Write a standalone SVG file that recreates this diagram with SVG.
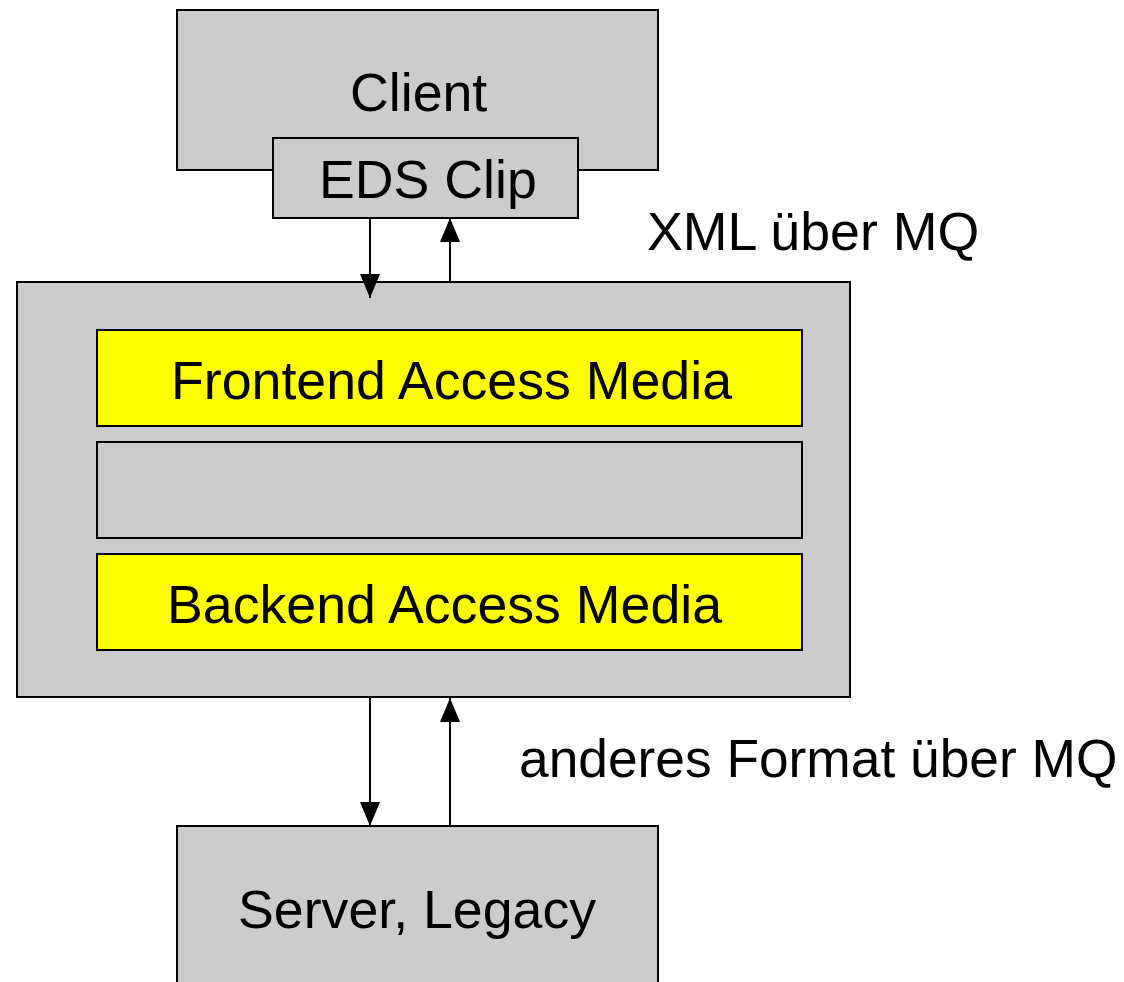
<svg xmlns="http://www.w3.org/2000/svg" width="1124" height="982" viewBox="0 0 1124 982">
<style>
.box{fill:#cccccc;stroke:#000;stroke-width:2}
.y{fill:#ffff00;stroke:#000;stroke-width:2}
text{font-family:"Liberation Sans",Arial,sans-serif;font-size:53.7px;fill:#000}
.c{stroke:#000;stroke-width:2;fill:none;marker-end:url(#ah)}
</style>
<defs>
<marker id="ah" viewBox="0 0 24 20" refX="24" refY="10" markerWidth="24" markerHeight="20" markerUnits="userSpaceOnUse" orient="auto">
<path d="M0,0 L24,10 L0,20 z" fill="#000"/>
</marker>
</defs>
<rect width="1124" height="982" fill="#fff"/>
<g id="client">
<rect class="box" x="177" y="10" width="481" height="160"/>
<text x="350" y="111">Client</text>
</g>
<g id="eds-clip">
<rect class="box" x="273" y="138" width="305" height="80"/>
<text x="319" y="198">EDS Clip</text>
</g>
<g id="middleware">
<rect class="box" x="17" y="282" width="833" height="415"/>
</g>
<g id="frontend">
<rect class="y" x="97" y="330" width="705" height="96"/>
<text x="171" y="399">Frontend Access Media</text>
</g>
<g id="middle-layer">
<rect class="box" x="97" y="442" width="705" height="96"/>
</g>
<g id="backend">
<rect class="y" x="97" y="554" width="705" height="96"/>
<text x="167" y="623">Backend Access Media</text>
</g>
<g id="server">
<rect class="box" x="177" y="826" width="481" height="200"/>
<text x="238" y="928">Server, Legacy</text>
</g>
<g id="connectors">
<line class="c" x1="370" y1="218" x2="370" y2="298"/>
<line class="c" x1="450" y1="282" x2="450" y2="218"/>
<line class="c" x1="370" y1="697" x2="370" y2="826"/>
<line class="c" x1="450" y1="826" x2="450" y2="698"/>
</g>
<g id="labels">
<text x="647" y="250">XML über MQ</text>
<text x="519" y="777" style="font-size:53.3px">anderes Format über MQ</text>
</g>
</svg>
